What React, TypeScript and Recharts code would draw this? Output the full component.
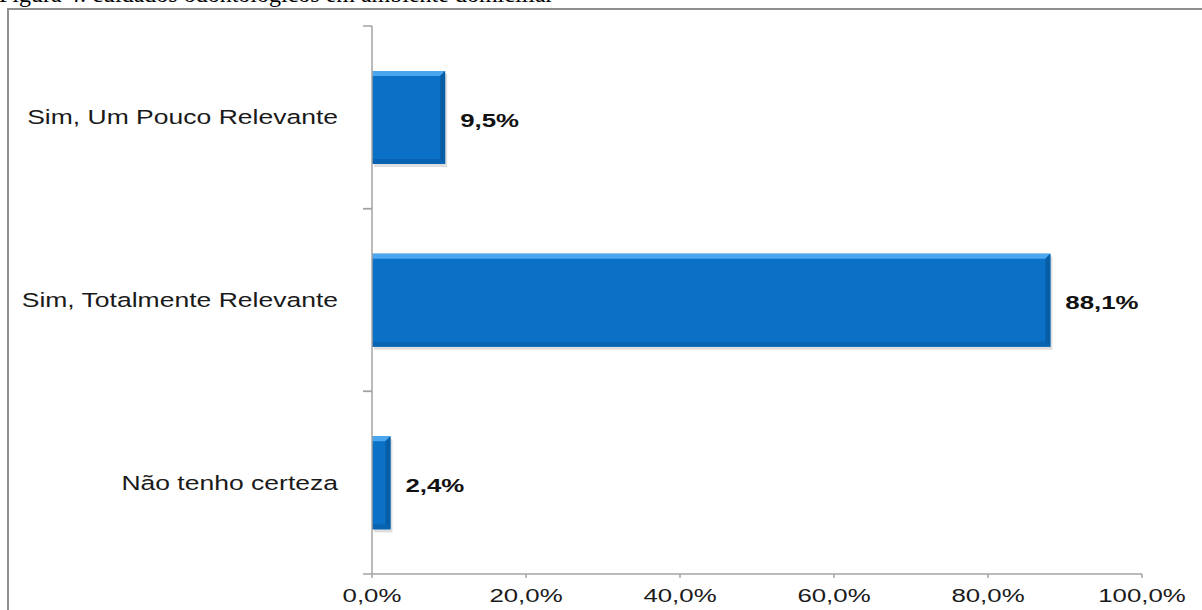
import React from "react";
import { BarChart, Bar, XAxis, YAxis, LabelList } from "recharts";

const categories = [
  "Sim, Um Pouco Relevante",
  "Sim, Totalmente Relevante",
  "Não tenho certeza",
];
const percents = [9.5, 88.1, 2.4];
const xTicks = [0, 20, 40, 60, 80, 100];

const data = categories.map((name, i) => ({ name, value: percents[i] }));

const W = 1202;
const H = 610;
const PLOT_TOP = 26;
const PLOT_BOTTOM = 574;
const AXIS_X = 372;
const PLOT_RIGHT = 1142;
const STRETCH = 1.36; // the source image is stretched horizontally
const AXIS_COLOR = "#a3a3a3";
const FONT = "'Liberation Sans', Arial, Helvetica, sans-serif";

const fmt = (v: number) => v.toFixed(1).replace(".", ",") + "%";

function YTick(props: any) {
  const { y, payload } = props;
  const half = (PLOT_BOTTOM - PLOT_TOP) / categories.length / 2;
  return (
    <g>
      <line x1={AXIS_X - 9} x2={AXIS_X} y1={y - half} y2={y - half} stroke={AXIS_COLOR} strokeWidth={1.5} />
      <line x1={AXIS_X - 9} x2={AXIS_X} y1={y + half} y2={y + half} stroke={AXIS_COLOR} strokeWidth={1.5} />
      <text
        transform={`translate(${AXIS_X - 34}, ${y + 7}) scale(${STRETCH}, 1)`}
        textAnchor="end"
        fontFamily={FONT}
        fontSize={19.5}
        fill="#1a1a1a"
      >
        {payload.value}
      </text>
    </g>
  );
}

function XTick(props: any) {
  const { x, payload } = props;
  return (
    <text
      transform={`translate(${x}, ${PLOT_BOTTOM + 28}) scale(${STRETCH}, 1)`}
      textAnchor="middle"
      fontFamily={FONT}
      fontSize={19}
      fill="#1a1a1a"
    >
      {fmt(payload.value)}
    </text>
  );
}

function BevelBar(props: any) {
  const { x, y, width: w, height: h } = props;
  if (!w || w <= 0) return null;
  const b = Math.min(5, w / 3);
  return (
    <g>
      <rect x={x + 2} y={y + 3} width={w} height={h} fill="#000" opacity={0.13} />
      <rect x={x} y={y} width={w} height={h} fill="#0a71c6" />
      <polygon
        points={`${x},${y} ${x + w},${y} ${x + w - b},${y + b} ${x},${y + b}`}
        fill="#4aa6ee"
      />
      <polygon
        points={`${x + w},${y} ${x + w},${y + h} ${x + w - b},${y + h - b} ${x + w - b},${y + b}`}
        fill="#075ea6"
      />
      <polygon
        points={`${x},${y + h} ${x + w},${y + h} ${x + w - b},${y + h - b} ${x},${y + h - b}`}
        fill="#0864b2"
      />
    </g>
  );
}

function ValueLabel(props: any) {
  const { x, y, width, height, value } = props;
  return (
    <text
      transform={`translate(${x + width + 15}, ${y + height / 2 + 9}) scale(${STRETCH}, 1)`}
      fontFamily={FONT}
      fontWeight="bold"
      fontSize={19}
      fill="#111"
    >
      {fmt(value)}
    </text>
  );
}

export default function App() {
  return (
    <div
      style={{
        position: "absolute",
        left: 0,
        top: 0,
        width: W,
        height: H,
        overflow: "hidden",
        background: "#fff",
      }}
    >
      <div
        style={{
          position: "absolute",
          left: -1,
          top: -19,
          fontFamily: "'Liberation Serif', 'Times New Roman', serif",
          fontSize: 24,
          whiteSpace: "nowrap",
          color: "#000",
        }}
      >
        Figura 4: cuidados odontológicos em ambiente domiciliar
      </div>
      <div
        style={{
          position: "absolute",
          left: 7,
          top: 8,
          width: 1300,
          height: 700,
          border: "2px solid #8f8f8f",
        }}
      />
      <div style={{ position: "absolute", left: 0, top: 0 }}>
        <BarChart
          width={W}
          height={H}
          data={data}
          layout="vertical"
          margin={{ top: PLOT_TOP, right: W - PLOT_RIGHT, bottom: 0, left: 0 }}
        >
          <XAxis
            type="number"
            domain={[0, 100]}
            ticks={xTicks}
            interval={0}
            tick={<XTick />}
            tickSize={4}
            tickLine={{ stroke: AXIS_COLOR, strokeWidth: 1.5 }}
            axisLine={{ stroke: AXIS_COLOR, strokeWidth: 1.5 }}
            height={H - PLOT_BOTTOM}
          />
          <YAxis
            type="category"
            dataKey="name"
            width={AXIS_X}
            tick={<YTick />}
            tickLine={false}
            axisLine={{ stroke: AXIS_COLOR, strokeWidth: 1.5 }}
            interval={0}
          />
          <Bar dataKey="value" barSize={93} shape={<BevelBar />} isAnimationActive={false}>
            <LabelList dataKey="value" content={<ValueLabel />} />
          </Bar>
        </BarChart>
      </div>
    </div>
  );
}
